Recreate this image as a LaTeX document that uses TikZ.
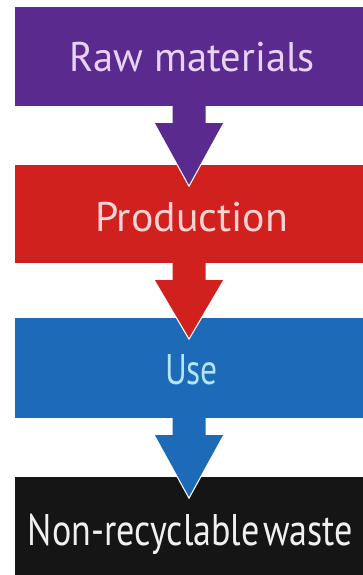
\documentclass[tikz,border=0pt]{standalone}
\usepackage{fontspec}
\setmainfont{PT Sans}
\usetikzlibrary{calc}
\definecolor{cPurple}{HTML}{5A2A8E}
\definecolor{cRed}{HTML}{D0211F}
\definecolor{cBlue}{HTML}{1D6AB8}
\definecolor{cBlack}{HTML}{151515}
\definecolor{tPurple}{HTML}{E9D3F5}
\definecolor{tRed}{HTML}{F8D3D3}
\definecolor{tBlue}{HTML}{B3E5F8}
\definecolor{tBlack}{HTML}{F0F0F0}
\newcommand{\capfit}[3]{\resizebox{#1}{#2}{\raisebox{0pt}[\fontcharht\font`X][0pt]{#3}}}
\tikzset{
  stagebox/.style={rectangle, inner sep=0pt, minimum width=348pt, draw=none},
  lbl/.style={inner sep=0pt, anchor=base, font=\fontsize{40}{44}\selectfont},
}
\newcommand{\flowarrow}[3]{%
  % #1 source node, #2 target node, #3 colour
  \coordinate (#1-s1) at ($(#1.south)+(-16.5,2)$);
  \coordinate (#1-s2) at ($(#1.south)+(16.5,2)$);
  \coordinate (#1-h1) at ($(#1.south)+(-16.5,-17)$);
  \coordinate (#1-h2) at ($(#1.south)+(16.5,-17)$);
  \coordinate (#1-w1) at ($(#1.south)+(-34,-17)$);
  \coordinate (#1-w2) at ($(#1.south)+(34,-17)$);
  \coordinate (#1-tip) at ($(#2.north)+(0,-20)$);
  \draw[white, line width=2.4pt, line join=miter] (#1-w1) -- (#1-tip) -- (#1-w2);
  \fill[#3] (#1-s1) -- (#1-h1) -- (#1-w1) -- (#1-tip) -- (#1-w2) -- (#1-h2) -- (#1-s2) -- cycle;
}
\begin{document}
\begin{tikzpicture}[x=1pt,y=1pt]
\useasboundingbox (0,0) rectangle (363,575);
\fill[white] (0,0) rectangle (363,575);
\node[stagebox, fill=cPurple, minimum height=99pt] (raw) at (189,518.5) {};
\node[stagebox, fill=cRed, minimum height=98pt] (prod) at (189,361) {};
\node[stagebox, fill=cBlue, minimum height=100pt] (use) at (189,207) {};
\node[stagebox, fill=cBlack, minimum height=98pt] (waste) at (189,49) {};
\node[lbl, text=tPurple] (rawt) at ($(raw.center)+(3.5,-15.5)$) {\capfit{245pt}{29pt}{Raw materials}};
\node[lbl, text=tRed] (prodt) at ($(prod.center)+(2.5,-18)$) {\capfit{193pt}{29pt}{Production}};
\node[lbl, text=tBlue] (uset) at ($(use.center)+(2.5,-17)$) {\capfit{53pt}{30pt}{Use}};
\node[lbl, text=tBlack] (wastet) at ($(waste.center)+(1.5,-19)$) {\capfit{325pt}{31pt}{Non-recyclable\kern0.1em waste}};
\flowarrow{raw}{prod}{cPurple}
\flowarrow{prod}{use}{cRed}
\flowarrow{use}{waste}{cBlue}
\end{tikzpicture}
\end{document}
